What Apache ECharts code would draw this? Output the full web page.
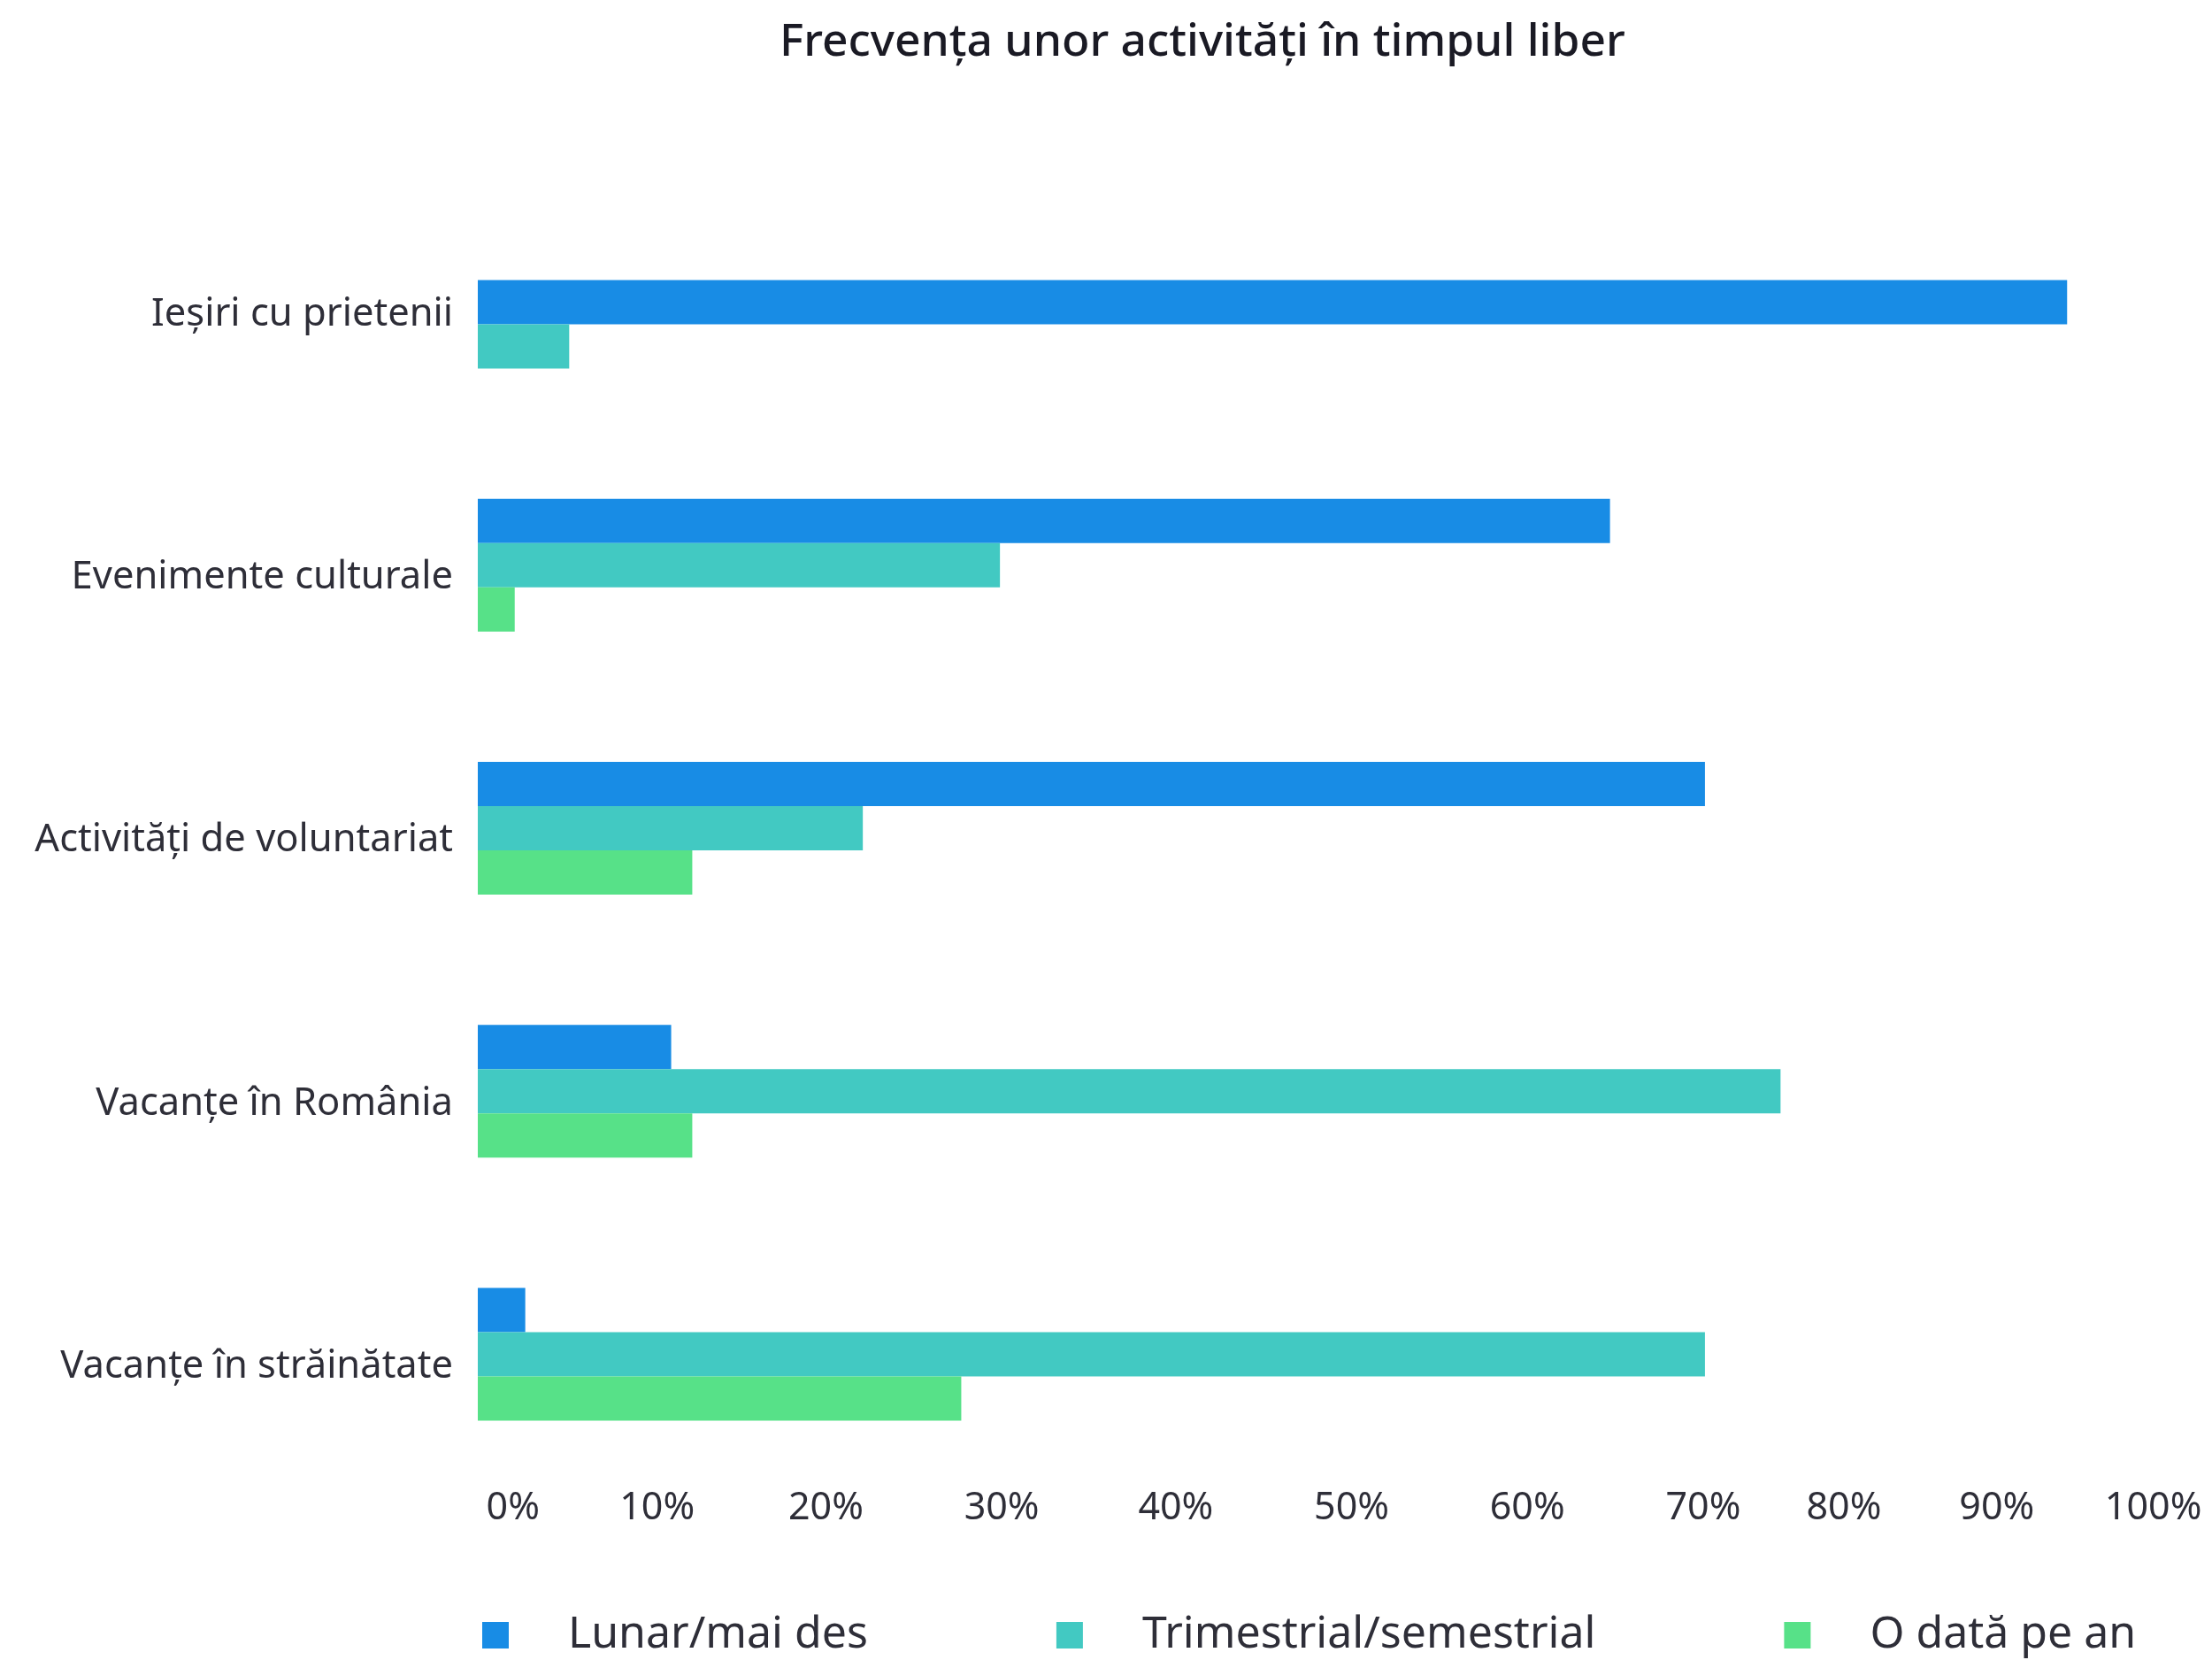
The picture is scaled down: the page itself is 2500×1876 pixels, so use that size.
<!DOCTYPE html>
<html>
<head>
<meta charset="utf-8">
<script src="https://cdn.jsdelivr.net/npm/echarts@6/dist/echarts.min.js"></script>
<style>
  html, body { margin: 0; padding: 0; background: #ffffff; }
  #chart { width: 2500px; height: 1876px; }
</style>
</head>
<body>
<div id="chart"></div>
<script>
// ---- data ----
const title = 'Frecvența unor activități în timpul liber';
const categories = ['Ieșiri cu prietenii', 'Evenimente culturale', 'Activități de voluntariat', 'Vacanțe în România', 'Vacanțe în străinătate'];
const seriesNames = ['Lunar/mai des', 'Trimestrial/semestrial', 'O dată pe an'];
const lunar = [90.4, 64.4, 69.8, 11.0, 2.7];
const trimestrial = [5.2, 29.7, 21.9, 74.1, 69.8];
const anual = [null, 2.1, 12.2, 12.2, 27.5];
const tickLabels = ['0%', '10%', '20%', '30%', '40%', '50%', '60%', '70%', '80%', '90%', '100%'];

// ---- layout / style ----
const colors = ['#188CE5', '#42C9C2', '#57E188'];
const textColor = '#2E2E38';
const fontFamily = "'Noto Sans', 'Open Sans', sans-serif";
// where the reference places each tick label along the value axis (labels are squeezed to fit the canvas)
const tickLabelAt = [2.0, 10.2, 19.8, 29.8, 39.7, 49.7, 59.7, 69.7, 77.7, 86.4, 95.3];

// In the reference, empty values leave a gap at the top of a group (non-empty bars fill the lower slots).
const allSeries = [lunar, trimestrial, anual];
const slots = [[], [], []];
categories.forEach((c, i) => {
  const present = [];
  allSeries.forEach((arr, s) => { if (arr[i] != null) present.push({ v: arr[i], s: s }); });
  const pad = allSeries.length - present.length;
  for (let k = 0; k < allSeries.length; k++) {
    const p = k - pad >= 0 ? present[k - pad] : null;
    slots[k].push(p ? { value: p.v, itemStyle: { color: colors[p.s] } } : null);
  }
});

const chart = echarts.init(document.getElementById('chart'), null, { renderer: 'canvas' });
chart.setOption({
  animation: false,
  backgroundColor: '#ffffff',
  title: {
    text: title,
    left: 876,
    top: 17,
    textStyle: { fontFamily: fontFamily, fontSize: 51.5, fontWeight: 500, color: '#1A1A24' }
  },
  legend: {
    data: seriesNames,
    left: 540,
    top: 1818,
    icon: 'rect',
    itemWidth: 30,
    itemHeight: 30,
    itemGap: 213,
    textStyle: { fontFamily: fontFamily, fontSize: 50, color: textColor, padding: [0, 0, 0, 62] }
  },
  grid: {
    left: 540,
    right: -27,
    top: 193,
    bottom: 197,
    containLabel: false,
    outerBoundsMode: 'none'
  },
  xAxis: {
    type: 'value',
    min: 0,
    max: 100,
    splitLine: { show: false },
    axisLine: { show: false },
    axisTick: { show: false },
    axisLabel: {
      customValues: tickLabelAt,
      formatter: function (v) { const i = tickLabelAt.indexOf(v); return i >= 0 ? tickLabels[i] : ''; },
      margin: 4,
      fontFamily: fontFamily,
      fontSize: 43,
      color: textColor
    }
  },
  yAxis: {
    type: 'category',
    data: categories,
    inverse: true,
    axisLine: { show: false },
    axisTick: { show: false },
    splitLine: { show: false },
    axisLabel: { margin: 28, fontFamily: fontFamily, fontSize: 43.5, color: textColor, verticalAlign: 'top', lineHeight: 28 }
  },
  series: slots.map((d, k) => ({
    name: seriesNames[k],
    type: 'bar',
    data: d,
    barWidth: 50,
    barGap: '0%',
    itemStyle: { color: colors[k] }
  }))
});
</script>
</body>
</html>
